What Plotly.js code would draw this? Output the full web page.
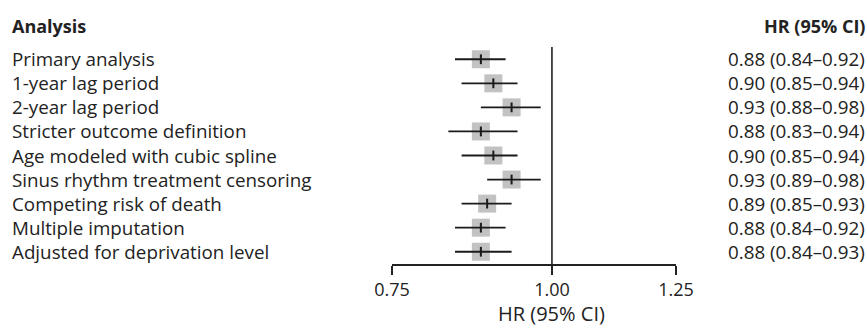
<!DOCTYPE html>
<html>
<head>
<meta charset="utf-8">
<script src="https://cdn.plot.ly/plotly-3.0.1.min.js"></script>
<style>html,body{margin:0;padding:0;background:#fff;}#chart{width:867px;height:328px;}</style>
</head>
<body>
<div id="chart"></div>
<script>
const analyses = ["Primary analysis","1-year lag period","2-year lag period","Stricter outcome definition","Age modeled with cubic spline","Sinus rhythm treatment censoring","Competing risk of death","Multiple imputation","Adjusted for deprivation level"];
const hr = [0.88,0.90,0.93,0.88,0.90,0.93,0.89,0.88,0.88];
const lo = [0.84,0.85,0.88,0.83,0.85,0.89,0.85,0.84,0.84];
const hi = [0.92,0.94,0.98,0.94,0.94,0.98,0.93,0.92,0.93];
const tickVals = [0.75,1.00,1.25];
const tickText = ["0.75","1.00","1.25"];
const xTitle = "HR (95% CI)";

const fmt = v => v.toFixed(2);
const labels = hr.map((v,i)=>`${fmt(v)} (${fmt(lo[i])}–${fmt(hi[i])})`);
const rows = analyses.map((_,i)=>i);

const FONT = "Open Sans, Noto Sans, sans-serif";
const TXT = "#222222";

const traces = [
  {x: hr, y: rows, type:'scatter', mode:'markers', hoverinfo:'skip',
   marker:{symbol:'square', size:18, color:'#c2c2c2', line:{width:0}}},
  {x: hr, y: rows, type:'scatter', mode:'markers', hoverinfo:'skip',
   marker:{symbol:'line-ns', size:7, color:'#1a1a1a', line:{width:2, color:'#1a1a1a'}},
   error_x:{type:'data', symmetric:false,
     array: hi.map((v,i)=>v-hr[i]), arrayminus: hr.map((v,i)=>v-lo[i]),
     width:0, thickness:1.8, color:'#1a1a1a'}}
];

const L = 392, R = 676, T = 47, B = 264;
const px2paper = p => (p - L)/(R - L);
const py2paper = p => (B - p)/(B - T);
const ann = [];
ann.push({x:px2paper(10), xref:'paper', y:py2paper(26), yref:'paper', text:'<b>Analysis</b>', showarrow:false, xanchor:'left', yanchor:'middle', font:{family:FONT,size:18,color:TXT}});
ann.push({x:px2paper(867), xref:'paper', y:py2paper(26), yref:'paper', text:'<b>HR (95% CI)</b>', showarrow:false, xanchor:'right', yanchor:'middle', font:{family:FONT,size:18,color:TXT}});
analyses.forEach((a,i)=>{
  ann.push({x:px2paper(10), xref:'paper', y:i, yref:'y', text:a, showarrow:false, xanchor:'left', yanchor:'middle', font:{family:FONT,size:18.8,color:TXT}});
  ann.push({x:px2paper(867), xref:'paper', y:i, yref:'y', text:labels[i], showarrow:false, xanchor:'right', yanchor:'middle', font:{family:FONT,size:18.8,color:TXT}});
});
ann.push({x:px2paper(551), xref:'paper', y:0, yref:'paper', yshift:-(328-B), text:xTitle, showarrow:false, xanchor:'center', yanchor:'bottom', borderpad:0, font:{family:FONT,size:20,color:TXT}});

const layout = {
  width:867, height:328,
  margin:{l:L, r:867-R, t:T, b:328-B, pad:0},
  paper_bgcolor:'#fff', plot_bgcolor:'#fff',
  showlegend:false,
  xaxis:{type:'log', range:[Math.log10(0.75), Math.log10(1.25)],
    tickvals:tickVals, ticktext:tickText, ticks:'outside', ticklen:9, tickwidth:1.6, tickcolor:'#222',
    showline:true, linecolor:'#222', linewidth:1.6, showgrid:false, zeroline:false,
    tickfont:{family:FONT,size:18,color:TXT}},
  yaxis:{range:[8.51,-0.51], showticklabels:false, showgrid:false, zeroline:false, showline:false, ticks:''},
  shapes:[{type:'line', xref:'x', x0:1, x1:1, yref:'paper', y0:0, y1:1, line:{color:'#222', width:1.6}}],
  annotations:ann
};
Plotly.newPlot('chart', traces, layout, {staticPlot:true, displayModeBar:false});
</script>
</body>
</html>
